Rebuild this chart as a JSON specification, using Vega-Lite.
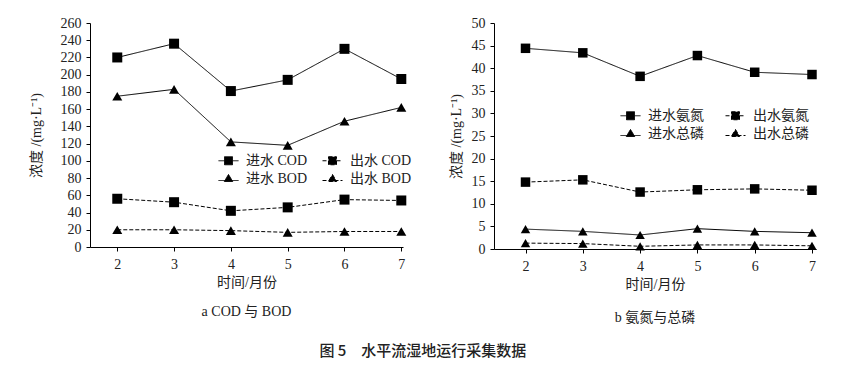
{
  "$schema": "https://vega.github.io/schema/vega-lite/v6.json",
  "background": "white",
  "padding": {"left": 29, "top": 16, "right": 5, "bottom": 5},
  "config": {
    "view": {"stroke": null},
    "font": "Liberation Serif, Noto Sans CJK SC",
    "axis": {
      "domainColor": "black", "tickColor": "black", "tickSize": 4, "grid": false,
      "labelFont": "Liberation Serif, Noto Sans CJK SC", "labelFontSize": 14, "labelColor": "#222",
      "titleFont": "Liberation Serif, Noto Sans CJK SC", "titleFontSize": 14, "titleFontWeight": "normal", "titleColor": "#222",
      "labelPadding": 5
    },
    "legend": {
      "labelFont": "Liberation Serif, Noto Sans CJK SC", "labelFontSize": 14, "labelColor": "#222",
      "symbolSize": 400, "symbolStrokeWidth": 1, "symbolStrokeColor": "black", "symbolFillColor": "black",
      "rowPadding": -2, "labelOffset": 7
    },
    "title": {"font": "Liberation Serif, Noto Sans CJK SC", "fontSize": 14, "fontWeight": "normal", "color": "#222"}
  },
  "datasets": {
    "cod": [
      {"month": 2, "series": "进水 COD", "value": 220}, {"month": 3, "series": "进水 COD", "value": 236}, {"month": 4, "series": "进水 COD", "value": 181}, {"month": 5, "series": "进水 COD", "value": 194}, {"month": 6, "series": "进水 COD", "value": 230}, {"month": 7, "series": "进水 COD", "value": 195},
      {"month": 2, "series": "出水 COD", "value": 56}, {"month": 3, "series": "出水 COD", "value": 52}, {"month": 4, "series": "出水 COD", "value": 42}, {"month": 5, "series": "出水 COD", "value": 46}, {"month": 6, "series": "出水 COD", "value": 55}, {"month": 7, "series": "出水 COD", "value": 54},
      {"month": 2, "series": "进水 BOD", "value": 175}, {"month": 3, "series": "进水 BOD", "value": 183}, {"month": 4, "series": "进水 BOD", "value": 122}, {"month": 5, "series": "进水 BOD", "value": 118}, {"month": 6, "series": "进水 BOD", "value": 146}, {"month": 7, "series": "进水 BOD", "value": 162},
      {"month": 2, "series": "出水 BOD", "value": 20}, {"month": 3, "series": "出水 BOD", "value": 20}, {"month": 4, "series": "出水 BOD", "value": 19}, {"month": 5, "series": "出水 BOD", "value": 17}, {"month": 6, "series": "出水 BOD", "value": 18}, {"month": 7, "series": "出水 BOD", "value": 18}
    ],
    "nh": [
      {"month": 2, "series": "进水氨氮", "value": 44.4}, {"month": 3, "series": "进水氨氮", "value": 43.4}, {"month": 4, "series": "进水氨氮", "value": 38.2}, {"month": 5, "series": "进水氨氮", "value": 42.8}, {"month": 6, "series": "进水氨氮", "value": 39.1}, {"month": 7, "series": "进水氨氮", "value": 38.6},
      {"month": 2, "series": "出水氨氮", "value": 14.8}, {"month": 3, "series": "出水氨氮", "value": 15.3}, {"month": 4, "series": "出水氨氮", "value": 12.6}, {"month": 5, "series": "出水氨氮", "value": 13.1}, {"month": 6, "series": "出水氨氮", "value": 13.3}, {"month": 7, "series": "出水氨氮", "value": 13.0},
      {"month": 2, "series": "进水总磷", "value": 4.4}, {"month": 3, "series": "进水总磷", "value": 3.9}, {"month": 4, "series": "进水总磷", "value": 3.1}, {"month": 5, "series": "进水总磷", "value": 4.5}, {"month": 6, "series": "进水总磷", "value": 3.9}, {"month": 7, "series": "进水总磷", "value": 3.6},
      {"month": 2, "series": "出水总磷", "value": 1.3}, {"month": 3, "series": "出水总磷", "value": 1.2}, {"month": 4, "series": "出水总磷", "value": 0.6}, {"month": 5, "series": "出水总磷", "value": 0.9}, {"month": 6, "series": "出水总磷", "value": 0.9}, {"month": 7, "series": "出水总磷", "value": 0.7}
    ]
  },
  "title": {"text": "图 5\u3000水平流湿地运行采集数据", "orient": "bottom", "anchor": "middle", "font": "Noto Sans CJK SC", "fontSize": 15, "fontWeight": 500, "offset": 19},
  "spacing": 37,
  "resolve": {"scale": {"x": "independent", "y": "independent", "strokeDash": "independent", "shape": "independent", "size": "independent"}, "legend": {"strokeDash": "independent"}},
  "hconcat": [
    {
      "width": 313, "height": 224,
      "data": {"name": "cod"},
      "title": {"text": "a COD 与 BOD", "orient": "bottom", "anchor": "middle", "offset": 16},
      "encoding": {
        "x": {"field": "month", "type": "quantitative", "scale": {"domain": [1.52, 7.03], "nice": false, "zero": false},
              "axis": {"values": [2, 3, 4, 5, 6, 7], "title": "时间/月份", "titlePadding": 4, "labelPadding": 6}},
        "y": {"field": "value", "type": "quantitative", "scale": {"domain": [0, 260], "nice": false},
              "axis": {"values": [0, 20, 40, 60, 80, 100, 120, 140, 160, 180, 200, 220, 240, 260], "title": "浓度 /(mg·L⁻¹)", "titlePadding": 17}}
      },
      "layer": [
        {
          "mark": {"type": "line", "color": "black", "strokeWidth": 1},
          "encoding": {
            "strokeDash": {"field": "series", "type": "nominal",
              "scale": {"domain": ["进水 COD", "进水 BOD", "出水 COD", "出水 BOD"], "range": [[1, 0], [1, 0], [4, 2], [4, 2]]},
              "legend": {"title": null, "orient": "none", "legendX": 128, "legendY": 127, "columns": 2, "columnPadding": 12,
                "encode": {"symbols": {"update": {
                  "shape": {"signal": "(datum.value == '进水 COD' || datum.value == '出水 COD') ? 'M-1,0H-0.4M0.4,0H1M-0.4,-0.4H0.4V0.4H-0.4Z' : 'M-1,0.2H1M0,-0.4L0.42,0.3H-0.42Z'"},
                  "fill": {"value": "black"}, "stroke": {"value": "black"}, "strokeWidth": {"value": 1}}}}}}
          }
        },
        {
          "mark": {"type": "point", "filled": true, "color": "black", "opacity": 1},
          "encoding": {
            "shape": {"field": "series", "type": "nominal", "scale": {"domain": ["进水 COD", "出水 COD", "进水 BOD", "出水 BOD"], "range": ["square", "square", "triangle-up", "triangle-up"]}, "legend": null},
            "size": {"field": "series", "type": "nominal", "scale": {"domain": ["进水 COD", "出水 COD", "进水 BOD", "出水 BOD"], "range": [100, 100, 70, 70]}, "legend": null}
          }
        }
      ]
    },
    {
      "width": 322, "height": 226,
      "data": {"name": "nh"},
      "title": {"text": "b 氨氮与总磷", "orient": "bottom", "anchor": "middle", "offset": 20},
      "encoding": {
        "x": {"field": "month", "type": "quantitative", "scale": {"domain": [1.45, 7.07], "nice": false, "zero": false},
              "axis": {"values": [2, 3, 4, 5, 6, 7], "title": "时间/月份", "titlePadding": 4, "labelPadding": 6}},
        "y": {"field": "value", "type": "quantitative", "scale": {"domain": [0, 50], "nice": false},
              "axis": {"values": [0, 5, 10, 15, 20, 25, 30, 35, 40, 45, 50], "title": "浓度 /(mg·L⁻¹)", "titlePadding": 8}}
      },
      "layer": [
        {
          "mark": {"type": "line", "color": "black", "strokeWidth": 1},
          "encoding": {
            "strokeDash": {"field": "series", "type": "nominal",
              "scale": {"domain": ["进水氨氮", "进水总磷", "出水氨氮", "出水总磷"], "range": [[1, 0], [1, 0], [4, 2], [4, 2]]},
              "legend": {"title": null, "orient": "none", "legendX": 126, "legendY": 82, "columns": 2, "columnPadding": 19,
                "encode": {"symbols": {"update": {
                  "shape": {"signal": "(datum.value == '进水氨氮' || datum.value == '出水氨氮') ? 'M-1,0H-0.4M0.4,0H1M-0.4,-0.4H0.4V0.4H-0.4Z' : 'M-1,0.2H1M0,-0.4L0.42,0.3H-0.42Z'"},
                  "fill": {"value": "black"}, "stroke": {"value": "black"}, "strokeWidth": {"value": 1}}}}}}
          }
        },
        {
          "mark": {"type": "point", "filled": true, "color": "black", "opacity": 1},
          "encoding": {
            "shape": {"field": "series", "type": "nominal", "scale": {"domain": ["进水氨氮", "出水氨氮", "进水总磷", "出水总磷"], "range": ["square", "square", "triangle-up", "triangle-up"]}, "legend": null},
            "size": {"field": "series", "type": "nominal", "scale": {"domain": ["进水氨氮", "出水氨氮", "进水总磷", "出水总磷"], "range": [90, 90, 60, 60]}, "legend": null}
          }
        }
      ]
    }
  ]
}
